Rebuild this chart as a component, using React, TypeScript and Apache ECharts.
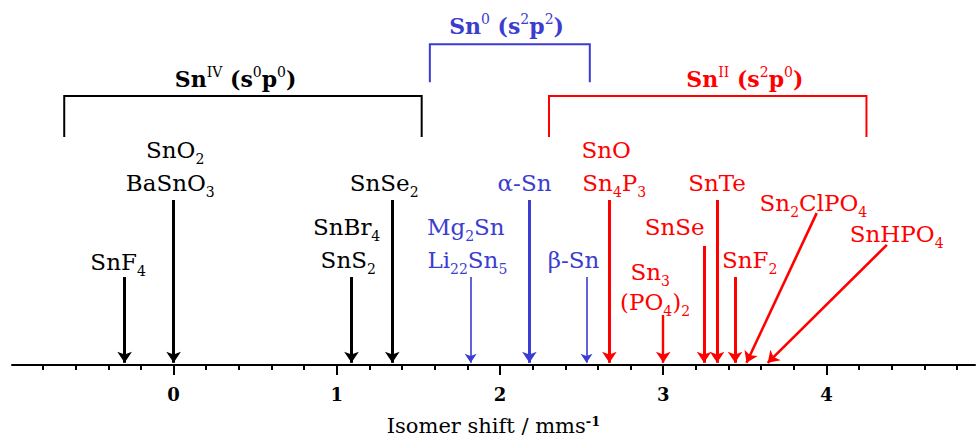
import React, { useEffect, useRef } from "react";
import * as echarts from "echarts";

// ---- data ----
const axisMin = -0.99;
const axisMax = 4.91;
const majorTicks = [0, 1, 2, 3, 4];
const minorTicks = [-0.8, -0.6, -0.4, -0.2, 0, 0.2, 0.4, 0.6, 0.8, 1, 1.2, 1.4, 1.6, 1.8, 2, 2.2, 2.4, 2.6, 2.8, 3, 3.2, 3.4, 3.6, 3.8, 4, 4.2, 4.4, 4.6, 4.8];

// vertical arrows (isomer shift, arrow start height)
const arrowNames = ["SnF4", "SnO2", "SnBr4", "SnSe2", "Mg2Sn", "a-Sn", "b-Sn", "SnO", "Sn3(PO4)2", "SnSe", "SnTe", "SnF2"];
const arrowGroup = ["IV", "IV", "IV", "IV", "0", "0", "0", "II", "II", "II", "II", "II"];
const arrowShift = [-0.30, 0.0, 1.09, 1.34, 1.82, 2.18, 2.53, 2.67, 3.0, 3.25, 3.33, 3.44];
const arrowTop = [24.1, 45.2, 24.1, 45.2, 24.1, 45.2, 24.1, 45.2, 13.7, 32.6, 45.2, 24.1];

// slanted arrows
const diagNames = ["Sn2ClPO4", "SnHPO4"];
const diagShift = [3.51, 3.64];
const diagStartX = [3.94, 4.37];
const diagStartY = [41.6, 32.9];

// compound labels
const labelText = [
  "{n|SnO}{sub|2}", "{n|BaSnO}{sub|3}", "{n|SnF}{sub|4}", "{n|SnBr}{sub|4}", "{n|SnS}{sub|2}", "{n|SnSe}{sub|2}",
  "{n|α-Sn}", "{n|Mg}{sub|2}{n|Sn}", "{n|Li}{sub|22}{n|Sn}{sub|5}", "{n|β-Sn}",
  "{n|SnO}", "{n|Sn}{sub|4}{n|P}{sub|3}", "{n|SnTe}", "{n|SnSe}", "{n|Sn}{sub|3}", "{n|(PO}{sub|4}{n|)}{sub|2}",
  "{n|SnF}{sub|2}", "{n|Sn}{sub|2}{n|ClPO}{sub|4}", "{n|SnHPO}{sub|4}",
];
const labelGroup = ["IV", "IV", "IV", "IV", "IV", "IV", "0", "0", "0", "0", "II", "II", "II", "II", "II", "II", "II", "II", "II"];
const labelX = [0.01, -0.02, -0.34, 1.06, 1.07, 1.29, 2.15, 1.79, 1.80, 2.45, 2.65, 2.70, 3.33, 3.07, 2.92, 2.95, 3.53, 3.92, 4.43];
const labelY = [58.9, 49.9, 28.2, 37.8, 28.8, 49.9, 49.9, 37.8, 28.8, 28.8, 58.9, 49.9, 49.9, 37.8, 25.5, 17.3, 28.8, 44.4, 35.9];

// oxidation-state brackets
const bracketGroup = ["IV", "0", "II"];
const bracketTitle = ["{b|Sn}{bsup|IV}{b| (s}{bsup|0}{b|p}{bsup|0}{b|)}", "{b|Sn}{bsup|0}{b| (s}{bsup|2}{b|p}{bsup|2}{b|)}", "{b|Sn}{bsup|II}{b| (s}{bsup|2}{b|p}{bsup|0}{b|)}"];
const bracketLeft = [-0.67, 1.57, 2.30];
const bracketRight = [1.52, 2.55, 4.245];
const bracketTop = [73.7, 87.9, 73.7];
const bracketBottom = [62.5, 77.5, 62.5];
const titleX = [0.38, 2.04, 3.50];
const titleY = [78.3, 92.9, 78.3];

// ---- styles ----
const FONT = "'DejaVu Serif', 'Liberation Serif', serif";
const groupColor: Record<string, string> = { IV: "#000000", "0": "#3c3cd0", II: "#ff0000" };
const thinArrows = ["Mg2Sn", "b-Sn"];
const mediumArrows = ["Sn3(PO4)2"];

const richFor = (color: string) => ({
  n: { fontFamily: FONT, fontSize: 23, lineHeight: 32, color, opacity: 1 },
  sub: { fontFamily: FONT, fontSize: 14, lineHeight: 14, verticalAlign: "bottom", color, opacity: 1 },
  b: { fontFamily: FONT, fontSize: 22, fontWeight: "bold", lineHeight: 28, color, opacity: 1 },
  bsup: { fontFamily: FONT, fontSize: 14, lineHeight: 14, verticalAlign: "top", color, opacity: 1 },
});

export default function App() {
  const ref = useRef<HTMLDivElement>(null);
  useEffect(() => {
    if (!ref.current) return;
    const chart = echarts.init(ref.current, null, { renderer: "svg" });

    const arrowData = arrowNames.map((name, i) => {
      const w = thinArrows.includes(name) ? 1.6 : mediumArrows.includes(name) ? 2.4 : 3;
      return {
        coords: [[arrowShift[i], arrowTop[i]], [arrowShift[i], 0.6]],
        lineStyle: { color: groupColor[arrowGroup[i]], width: w, opacity: 1 },
        symbolSize: w < 2 ? 9 : 11,
      };
    });
    const diagData = diagNames.map((_, i) => ({
      coords: [[diagStartX[i], diagStartY[i]], [diagShift[i], 0.6]],
      lineStyle: { color: groupColor.II, width: 2.6, opacity: 1 },
      symbolSize: 11,
    }));
    const bracketData = bracketGroup.map((g, i) => ({
      coords: [
        [bracketLeft[i], bracketBottom[i]],
        [bracketLeft[i], bracketTop[i]],
        [bracketRight[i], bracketTop[i]],
        [bracketRight[i], bracketBottom[i]],
      ],
      lineStyle: { color: groupColor[g], width: 2, opacity: 1 },
    }));
    const labelData = labelText.map((t, i) => ({
      value: [labelX[i], labelY[i]],
      name: t,
      label: { rich: richFor(groupColor[labelGroup[i]]) },
    }));
    const titleData = bracketTitle.map((t, i) => ({
      value: [titleX[i], titleY[i]],
      name: t,
      label: { rich: richFor(groupColor[bracketGroup[i]]) },
    }));

    chart.setOption({
      animation: false,
      backgroundColor: "#ffffff",
      grid: { left: 12, right: 4, top: 0, bottom: 74, containLabel: false, outerBoundsMode: "none" },
      xAxis: [
        {
          type: "value",
          min: axisMin,
          max: axisMax,
          position: "bottom",
          axisLine: { show: true, onZero: false, lineStyle: { color: "#000", width: 2 } },
          axisTick: { show: true, length: 10, customValues: majorTicks, lineStyle: { color: "#000", width: 2 } },
          axisLabel: {
            show: true,
            customValues: majorTicks,
            margin: 20,
            color: "#000",
            fontFamily: FONT,
            fontSize: 18,
            fontWeight: "bold",
          },
          splitLine: { show: false },
          name: "{n|Isomer shift / mms}{s|-1}",
          nameLocation: "middle",
          nameGap: 50,
          nameTextStyle: {
            rich: {
              n: { fontFamily: FONT, fontSize: 21, lineHeight: 21, color: "#000" },
              s: { fontFamily: FONT, fontSize: 13, lineHeight: 13, verticalAlign: "top", color: "#000", fontWeight: "bold" },
            },
          },
        },
        {
          type: "value",
          min: axisMin,
          max: axisMax,
          position: "bottom",
          axisLine: { show: false, onZero: false },
          axisTick: { show: true, length: 5, customValues: minorTicks, lineStyle: { color: "#000", width: 2 } },
          axisLabel: { show: false },
          splitLine: { show: false },
        },
      ],
      yAxis: { type: "value", min: 0, max: 100, show: false, splitLine: { show: false } },
      series: [
        {
          type: "lines",
          coordinateSystem: "cartesian2d",
          polyline: true,
          symbol: ["none", "none"],
          lineStyle: { opacity: 1 },
          data: bracketData,
          silent: true,
        },
        {
          type: "lines",
          coordinateSystem: "cartesian2d",
          symbol: ["none", "arrow"],
          symbolSize: 11,
          lineStyle: { opacity: 1 },
          data: [...arrowData, ...diagData],
          silent: true,
        },
        {
          type: "scatter",
          symbol: "circle",
          symbolSize: 1,
          itemStyle: { color: "rgba(0,0,0,0)", opacity: 1 },
          label: { show: true, opacity: 1, position: "inside", align: "center", verticalAlign: "middle", formatter: (p: any) => p.name },
          labelLayout: { hideOverlap: false },
          data: [...labelData, ...titleData],
          silent: true,
        },
      ],
    });
    return () => chart.dispose();
  }, []);
  return <div ref={ref} style={{ position: "fixed", left: 0, top: 0, width: 979, height: 439 }} />;
}
